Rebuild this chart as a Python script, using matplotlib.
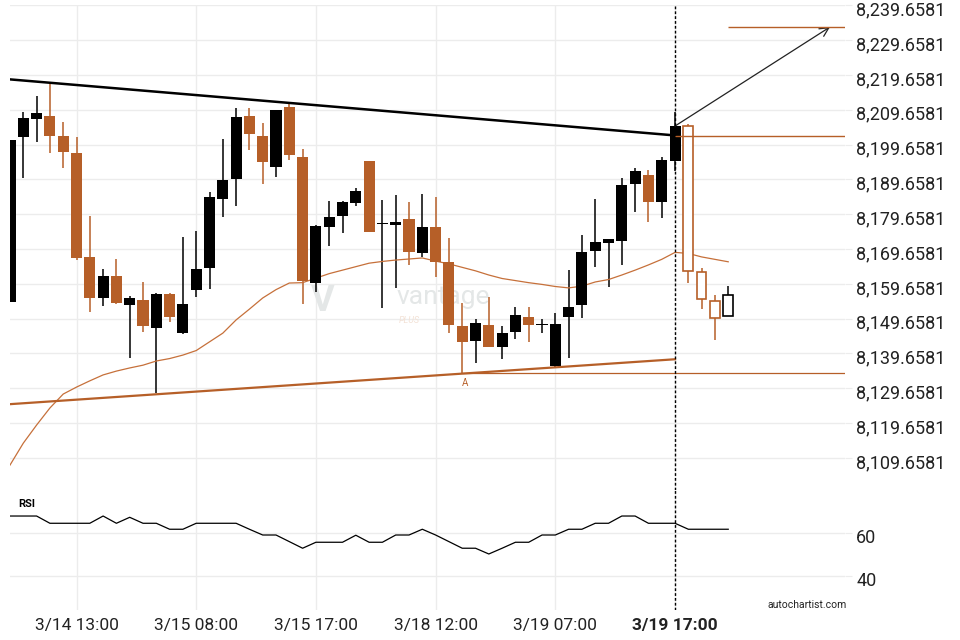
import matplotlib
matplotlib.use("Agg")
from matplotlib import pyplot as plt
from matplotlib import transforms

plt.rcParams['font.family'] = ['Roboto', 'DejaVu Sans']

# candle index (-1 is the clipped one at the left edge)
idx = list(range(-1, 54))
opens = [8154.5, 8201.9, 8207.0, 8207.9, 8202.1, 8197.2, 8167.4, 8155.7, 8161.9, 8153.6,
         8155.0, 8147.1, 8156.7, 8145.6, 8157.9, 8164.3, 8184.1, 8189.7, 8207.9, 8202.1,
         8193.3, 8210.5, 8196.1, 8160.0, 8176.1, 8179.2, 8183.0, 8195.0, 8176.8, 8176.7,
         8178.2, 8168.6, 8176.0, 8166.0, 8147.6, 8143.3, 8147.8, 8141.6, 8145.9, 8150.1,
         8147.9, 8136.1, 8150.2, 8153.7, 8169.2, 8171.5, 8172.1, 8188.4, 8190.9, 8183.3,
         8195.0, 8205.1, 8163.0, 8154.7, 8150.3]
highs = [8201.0, 8209.1, 8213.6, 8217.4, 8206.1, 8201.8, 8179.2, 8163.8, 8166.8, 8156.2,
         8160.3, 8156.9, 8156.9, 8173.0, 8174.9, 8186.0, 8201.2, 8210.1, 8210.1, 8205.8,
         8209.6, 8211.7, 8198.3, 8176.6, 8183.5, 8183.5, 8187.3, 8195.0, 8183.8, 8185.2,
         8183.1, 8185.4, 8184.7, 8172.7, 8154.1, 8149.5, 8156.0, 8147.6, 8153.1, 8153.1,
         8149.5, 8151.4, 8163.6, 8173.7, 8183.9, 8172.5, 8190.0, 8192.8, 8192.4, 8196.0,
         8209.1, 8205.6, 8164.1, 8156.5, 8159.0]
lows = [8154.5, 8190.0, 8200.3, 8197.3, 8192.9, 8166.5, 8151.5, 8153.4, 8153.8, 8138.3,
        8145.7, 8128.2, 8148.6, 8145.2, 8155.8, 8158.1, 8178.8, 8182.0, 8198.1, 8188.3,
        8190.4, 8195.2, 8153.8, 8157.4, 8170.5, 8174.2, 8182.1, 8174.6, 8152.8, 8158.6,
        8165.1, 8167.3, 8161.7, 8145.6, 8134.0, 8136.8, 8141.4, 8138.0, 8143.7, 8143.0,
        8145.5, 8135.7, 8138.3, 8149.8, 8164.6, 8158.8, 8165.1, 8180.4, 8177.3, 8178.5,
        8192.0, 8159.8, 8152.4, 8143.5, 8150.3]
closes = [8201.0, 8207.2, 8208.8, 8202.1, 8197.6, 8167.2, 8155.7, 8161.9, 8154.2, 8155.7,
          8147.6, 8156.7, 8150.2, 8153.9, 8163.9, 8184.7, 8189.5, 8207.6, 8202.8, 8194.8,
          8209.6, 8196.8, 8160.4, 8176.3, 8178.9, 8183.2, 8186.3, 8174.6, 8177.0, 8177.4,
          8168.9, 8176.0, 8166.0, 8147.8, 8143.0, 8148.4, 8141.6, 8145.5, 8150.6, 8147.8,
          8148.1, 8148.1, 8153.0, 8168.8, 8171.7, 8172.5, 8188.1, 8192.1, 8183.3, 8195.2,
          8205.0, 8163.3, 8155.2, 8149.8, 8156.4]
ma = [8107.6, 8113.9, 8119.1, 8124.0, 8128.0, 8130.0, 8131.8, 8133.5, 8134.6, 8135.5,
      8136.3, 8137.5, 8138.2, 8139.2, 8140.5, 8143.0, 8145.5, 8149.3, 8152.4, 8155.6,
      8158.0, 8159.9, 8160.0, 8161.3, 8162.6, 8163.6, 8164.6, 8165.6, 8166.1, 8166.5,
      8166.8, 8167.1, 8166.2, 8165.4, 8164.4, 8163.4, 8162.2, 8161.2, 8160.6, 8160.0,
      8159.5, 8158.9, 8158.5, 8159.0, 8160.2, 8160.9, 8162.2, 8163.6, 8165.1, 8166.7,
      8168.7, 8168.4, 8167.4, 8166.7, 8166.0]
rsi = [68.1, 68.1, 68.1, 64.7, 64.7, 64.7, 64.7, 68.1, 64.7, 67.5,
       64.7, 64.7, 61.9, 61.9, 64.7, 64.7, 64.7, 64.7, 61.9, 59.2,
       59.2, 56.1, 53.0, 55.8, 55.8, 55.8, 59.1, 55.8, 55.8, 59.2,
       59.2, 61.9, 59.2, 56.1, 53.0, 53.0, 50.3, 53.0, 55.8, 55.8,
       59.2, 59.2, 61.9, 61.9, 64.7, 64.7, 68.1, 68.1, 64.7, 64.7,
       64.7, 61.9, 61.9, 61.9, 61.9]

signal_idx = 49  # breakout candle, candles after it are drawn hollow
resist_x = [-1, 49]
resist_y = [8218.4, 8202.3]
support_x = [-1, 49]
support_y = [8125.1, 8138.0]
point_a = (33, 8134.0)
breakout_level = 8202.05
target_level = 8233.45
arrow_x = [49, 60.65]
arrow_y = [8205.0, 8233.45]

tick_pos = [4, 13, 22, 31, 40, 49]
tick_lab = ['3/14 13:00', '3/15 08:00', '3/15 17:00', '3/18 12:00', '3/19 07:00', '3/19 17:00']
price_ticks = [8109.6581 + 10 * k for k in range(14)]

ORANGE = '#b65f28'
GRID = '#ececec'

fig = plt.figure(figsize=(9.6, 6.4), dpi=100)
ax = fig.add_axes([10 / 960, 1 - 490 / 640, 835 / 960, 485 / 640])
ax2 = fig.add_axes([10 / 960, 1 - 610 / 640, 835 / 960, 120 / 640], sharex=ax)

xmin, xmax = -1.0, 61.78
for a in (ax, ax2):
    for s in a.spines.values():
        s.set_visible(False)
    a.set_xlim(xmin, xmax)
    a.set_xticks(tick_pos)
    a.grid(True, color=GRID, lw=1)
    a.set_axisbelow(True)
    a.yaxis.tick_right()
    a.tick_params(axis='y', length=5, color=GRID, labelsize=13, labelcolor='#222', pad=3)
    a.tick_params(axis='x', length=0)

# candles
w = 0.83
for i, o, h, l, c in zip(idx, opens, highs, lows, closes):
    up = c >= o
    col = 'black' if up else ORANGE
    top, bot = max(o, c), min(o, c)
    hgt = max(top - bot, 0.35)
    hollow = i > signal_idx
    ax.vlines(i, top, h, color=col, lw=1.1, zorder=2)
    ax.vlines(i, l, bot, color=col, lw=1.1, zorder=2)
    if hollow:
        ax.bar(i, hgt, bottom=bot, width=w - 0.1, facecolor='white', edgecolor=col, lw=1.2, zorder=3)
    else:
        ax.bar(i, hgt, bottom=bot, width=w, color=col, lw=0, zorder=3)

ax.plot(idx, ma, color='#c6703a', lw=0.9, zorder=2)
ax.plot(resist_x, resist_y, color='black', lw=1.8, zorder=4)
ax.plot(support_x, support_y, color=ORANGE, lw=1.6, zorder=4)
ax.hlines(point_a[1], point_a[0], xmax, color=ORANGE, lw=0.9, zorder=4)
ax.text(point_a[0] + 0.2, point_a[1] - 1.3, 'A', color=ORANGE, fontsize=7, ha='center', va='top')
ax.hlines(breakout_level, signal_idx, xmax, color=ORANGE, lw=1.0, zorder=4)
ax.hlines(target_level, 53, xmax, color=ORANGE, lw=1.0, zorder=4)
ax.annotate('', xy=(arrow_x[1], arrow_y[1]), xytext=(arrow_x[0], arrow_y[0]),
            arrowprops=dict(arrowstyle='->', color='#222', lw=0.9, mutation_scale=16, shrinkA=0, shrinkB=0))
ax.axvline(signal_idx, color='black', lw=1, ls=(0, (2, 1.5)), zorder=5)

ax.set_ylim(8100.44, 8239.77)
ax.set_yticks(price_ticks)
ax.set_yticklabels([f'{v:,.4f}' for v in price_ticks])
ax.tick_params(axis='x', labelbottom=False)

# labels sit a little below their grid lines
down = transforms.ScaledTranslation(0, -3 / 100, fig.dpi_scale_trans)
for a in (ax, ax2):
    for lab in a.get_yticklabels():
        lab.set_transform(lab.get_transform() + down)

# watermark
ax.text(0.375, 0.39, 'V', transform=ax.transAxes, fontsize=26, fontweight='bold', color='#e4e7e7',
        ha='center', va='center', zorder=1)
ax.text(0.519, 0.397, 'vantage', transform=ax.transAxes, fontsize=19, color='#e4e7e7',
        ha='center', va='center', zorder=1)
ax.text(0.478, 0.35, 'PLUS', transform=ax.transAxes, fontsize=6.5, color='#f3e2d6', style='italic',
        ha='center', va='center', zorder=1)

# RSI panel
ax2.plot(idx, rsi, color='black', lw=0.9)
ax2.axvline(signal_idx, color='black', lw=1, ls=(0, (2, 1.5)))
ax2.set_ylim(24.04, 80.3)
ax2.set_yticks([40, 60])
ax2.set_xticklabels(tick_lab)
ax2.tick_params(axis='x', labelsize=12.5, labelcolor='#222', pad=6)
ax2.get_xticklabels()[-1].set_fontweight('bold')
ax2.text(0.0204, 0.883, 'RSI', transform=ax2.transAxes, fontsize=8, fontweight='bold',
         ha='center', va='center')

fig.text(807 / 960, 1 - 605 / 640, 'autochartist.com', fontsize=7.5, color='#222', ha='center', va='center')

fig.savefig('out.png', dpi=100)
